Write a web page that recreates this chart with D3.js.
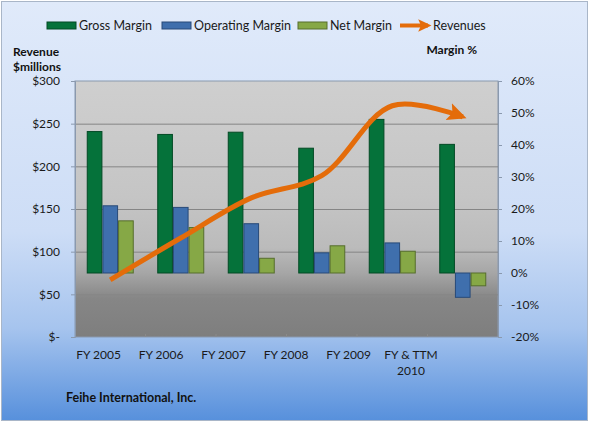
<!DOCTYPE html>
<html>
<head>
<meta charset="utf-8">
<script src="https://cdn.jsdelivr.net/npm/d3@7"></script>
<style>
  body { margin: 0; background: #fff; }
  svg { display: block; font-family: Lato, "Open Sans", sans-serif; }
</style>
</head>
<body>
<div id="chart"></div>
<script>
// data
var years = ["FY 2005", "FY 2006", "FY 2007", "FY 2008", "FY 2009", "FY & TTM 2010"];
var grossMargin = [44.2, 43.3, 44.0, 39.0, 48.0, 40.2];
var operatingMargin = [21.0, 20.5, 15.4, 6.3, 9.4, -7.6];
var netMargin = [16.3, 14.2, 4.6, 8.5, 6.8, -4.0];
var revenues = [67, 116, 163, 189, 271, 258];
var revTicks = [0, 50, 100, 150, 200, 250, 300];
var pctTicks = [-20, -10, 0, 10, 20, 30, 40, 50, 60];

var series = [
  { name: "Gross Margin", values: grossMargin, fill: "#05723A", stroke: "#034A24" },
  { name: "Operating Margin", values: operatingMargin, fill: "#3F6FAD", stroke: "#284A78" },
  { name: "Net Margin", values: netMargin, fill: "#86A846", stroke: "#566E2C" }
];

var W = 589, H = 422;
var plot = { left: 75, right: 498, top: 81, bottom: 337 };

var svg = d3.select("#chart").append("svg")
  .attr("width", W)
  .attr("height", H);

var defs = svg.append("defs");

var bg = defs.append("linearGradient").attr("id", "bg")
  .attr("x1", 0).attr("y1", 0).attr("x2", 0).attr("y2", 1);
bg.append("stop").attr("offset", "0%").attr("stop-color", "#E0EAFA");
bg.append("stop").attr("offset", "55%").attr("stop-color", "#CDDDF6");
bg.append("stop").attr("offset", "78%").attr("stop-color", "#A6C4EE");
bg.append("stop").attr("offset", "100%").attr("stop-color", "#5790DC");

var pg = defs.append("linearGradient").attr("id", "plotbg")
  .attr("x1", 0).attr("y1", 0).attr("x2", 0).attr("y2", 1);
pg.append("stop").attr("offset", "0%").attr("stop-color", "#CFCFCF");
pg.append("stop").attr("offset", "45%").attr("stop-color", "#C5C5C5");
pg.append("stop").attr("offset", "65%").attr("stop-color", "#BBBBBB");
pg.append("stop").attr("offset", "75%").attr("stop-color", "#A6A6A6");
pg.append("stop").attr("offset", "85%").attr("stop-color", "#868686");
pg.append("stop").attr("offset", "100%").attr("stop-color", "#7E7E7E");

defs.append("marker")
  .attr("id", "arrow")
  .attr("markerUnits", "userSpaceOnUse")
  .attr("viewBox", "0 0 20 20")
  .attr("markerWidth", 20)
  .attr("markerHeight", 20)
  .attr("refX", 15)
  .attr("refY", 10)
  .attr("orient", "auto")
  .append("path")
  .attr("d", "M0,1 L19,10 L0,19 L4,10 Z")
  .attr("fill", "#E46C0A");

defs.append("marker")
  .attr("id", "arrowSmall")
  .attr("markerUnits", "userSpaceOnUse")
  .attr("viewBox", "0 0 20 20")
  .attr("markerWidth", 14)
  .attr("markerHeight", 14)
  .attr("refX", 14)
  .attr("refY", 10)
  .attr("orient", "auto")
  .append("path")
  .attr("d", "M0,1 L19,10 L0,19 L4,10 Z")
  .attr("fill", "#E46C0A");

// chart background
svg.append("rect")
  .attr("x", 1.5).attr("y", 1.5)
  .attr("width", W - 3).attr("height", H - 3)
  .attr("fill", "url(#bg)")
  .attr("stroke", "#A9B6C8");

// scales
var x = d3.scaleBand().domain(years).range([plot.left, plot.right]);
var xLabel = d3.scalePoint().domain(years).range([98.5, 411]);
var yRev = d3.scaleLinear().domain([0, 300]).range([plot.bottom, plot.top]);
var yPct = d3.scaleLinear().domain([-20, 60]).range([plot.bottom, plot.top]);
var inner = d3.scaleBand().domain(series.map(function (s) { return s.name; }))
  .range([0, 47]);

// plot area
svg.append("rect")
  .attr("x", plot.left).attr("y", plot.top)
  .attr("width", plot.right - plot.left).attr("height", plot.bottom - plot.top)
  .attr("fill", "url(#plotbg)")
  .attr("stroke", "#8A99AE");

svg.append("g").selectAll("line")
  .data(revTicks.slice(1, -1))
  .enter().append("line")
  .attr("x1", plot.left).attr("x2", plot.right)
  .attr("y1", function (d) { return yRev(d) + 0.5; })
  .attr("y2", function (d) { return yRev(d) + 0.5; })
  .attr("stroke", "#858585")
  .attr("stroke-width", 1);

// axes
var fmtRev = function (d) { return d === 0 ? "$-" : "$" + d; };
var leftAxis = svg.append("g")
  .attr("transform", "translate(" + plot.left + ",0)")
  .call(d3.axisLeft(yRev).tickValues(revTicks).tickFormat(fmtRev).tickSize(4).tickPadding(11));
var rightAxis = svg.append("g")
  .attr("transform", "translate(" + plot.right + ",0)")
  .call(d3.axisRight(yPct).tickValues(pctTicks).tickFormat(function (d) { return d + "%"; }).tickSize(4).tickPadding(9));
[leftAxis, rightAxis].forEach(function (g) {
  g.select(".domain").attr("stroke", "#8A99AE");
  g.selectAll(".tick line").attr("stroke", "#8A99AE");
  g.selectAll(".tick text").attr("fill", "#1A1A1A")
    .style("font-size", "12px").style("font-family", "Lato, sans-serif");
});

// x tick marks
svg.append("g").selectAll("line")
  .data(years.slice(1))
  .enter().append("line")
  .attr("x1", function (d) { return x(d); })
  .attr("x2", function (d) { return x(d); })
  .attr("y1", plot.bottom).attr("y2", plot.bottom - 3)
  .attr("stroke", "#8A8A8A");

// bars
series.forEach(function (s) {
  svg.append("g").selectAll("rect")
    .data(s.values)
    .enter().append("rect")
    .attr("x", function (d, i) { return x(years[i]) + (x.bandwidth() - 47) / 2 + inner(s.name) + 0.5; })
    .attr("width", inner.bandwidth() - 1)
    .attr("y", function (d) { return Math.min(yPct(d), yPct(0)); })
    .attr("height", function (d) { return Math.abs(yPct(d) - yPct(0)); })
    .attr("fill", s.fill)
    .attr("stroke", s.stroke)
    .attr("stroke-width", 1);
});

// revenue line
var line = d3.line()
  .x(function (d, i) { return x(years[i]) + x.bandwidth() / 2; })
  .y(function (d) { return yRev(d); })
  .curve(d3.curveCatmullRom.alpha(0.5));

svg.append("path")
  .datum(revenues)
  .attr("d", line)
  .attr("fill", "none")
  .attr("stroke", "#E46C0A")
  .attr("stroke-width", 5)
  .attr("marker-end", "url(#arrow)");

// x labels
var xl = svg.append("g").selectAll("text")
  .data(years)
  .enter().append("text")
  .attr("x", function (d) { return xLabel(d); })
  .attr("y", 359)
  .attr("text-anchor", "middle")
  .attr("fill", "#1A1A1A")
  .style("font-size", "12px");
xl.each(function (d) {
  var t = d3.select(this);
  if (d === "FY & TTM 2010") {
    t.append("tspan").attr("x", xLabel(d)).text("FY & TTM");
    t.append("tspan").attr("x", xLabel(d)).attr("dy", 16).text("2010");
  } else {
    t.text(d);
  }
});

// axis titles
svg.append("text").attr("x", 13).attr("y", 56)
  .attr("font-weight", "bold").style("font-size", "12px").attr("fill", "#111")
  .text("Revenue");
svg.append("text").attr("x", 13).attr("y", 71)
  .attr("font-weight", "bold").style("font-size", "12px").attr("fill", "#111")
  .text("$millions");
svg.append("text").attr("x", 477).attr("y", 54)
  .attr("text-anchor", "end")
  .attr("font-weight", "bold").style("font-size", "12px").attr("fill", "#111")
  .text("Margin  %");

// footer
svg.append("text").attr("x", 66).attr("y", 402)
  .attr("font-weight", "bold").style("font-size", "12.5px").attr("fill", "#111")
  .text("Feihe International, Inc.");

// legend
var legendX = [47, 162, 298];
series.forEach(function (s, i) {
  svg.append("rect")
    .attr("x", legendX[i]).attr("y", 22)
    .attr("width", 29).attr("height", 7)
    .attr("fill", s.fill).attr("stroke", s.stroke);
  svg.append("text")
    .attr("x", legendX[i] + 32).attr("y", 30)
    .style("font-size", "12.5px").attr("fill", "#1A1A1A")
    .text(s.name);
});
svg.append("line")
  .attr("x1", 400).attr("x2", 428)
  .attr("y1", 25.5).attr("y2", 25.5)
  .attr("stroke", "#E46C0A").attr("stroke-width", 4)
  .attr("marker-end", "url(#arrowSmall)");
svg.append("text")
  .attr("x", 433).attr("y", 30)
  .style("font-size", "12.5px").attr("fill", "#1A1A1A")
  .text("Revenues");
</script>
</body>
</html>
